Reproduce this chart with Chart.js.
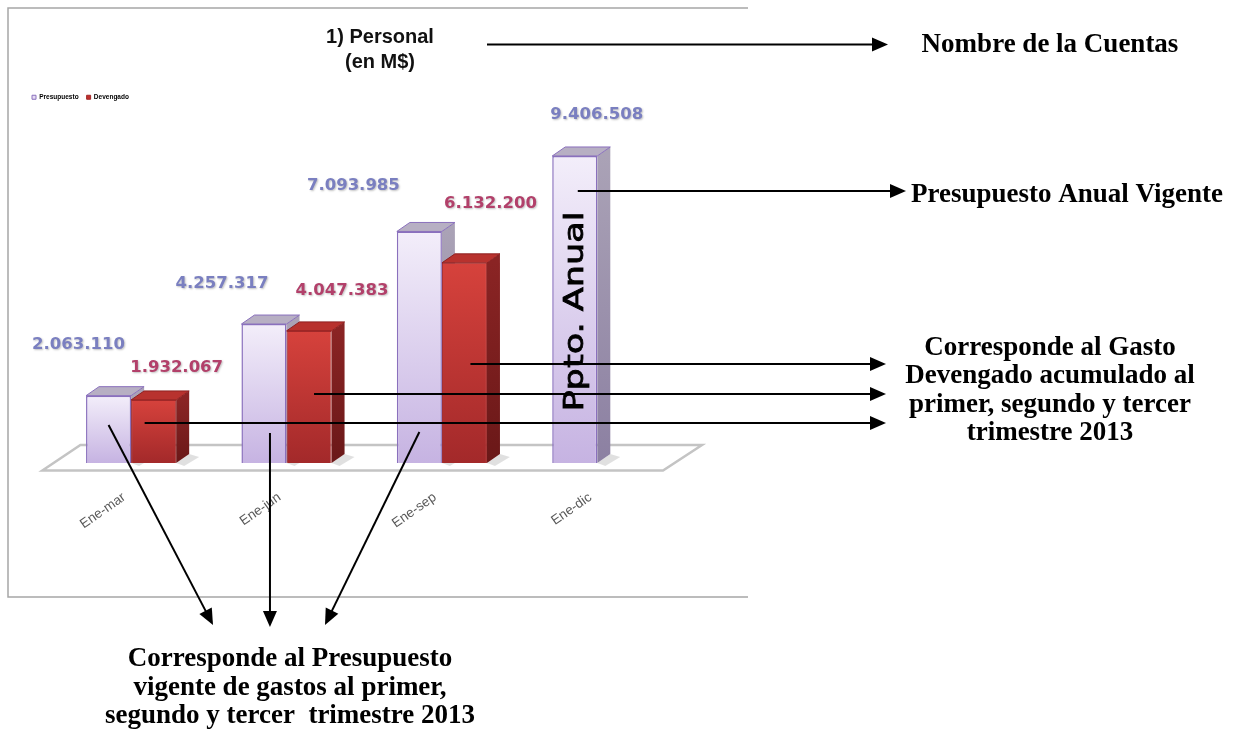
<!DOCTYPE html>
<html>
<head>
    <meta charset="utf-8">
    <title>Personal (en M$)</title>
    <script src="https://cdn.jsdelivr.net/npm/chart.js@4.4.1/dist/chart.umd.min.js"></script>
    <style>
        html, body { margin: 0; padding: 0; background: #fff; }
        #wrap { width: 1235px; height: 735px; }
    </style>
</head>
<body>
<div id="wrap"><canvas id="chart" width="1235" height="735"></canvas></div>
<script>
    // datos del grafico
    const categorias = ['Ene-mar', 'Ene-jun', 'Ene-sep', 'Ene-dic'];
    const presupuesto = [2063110, 4257317, 7093985, 9406508];
    const devengado = [1932067, 4047383, 6132200, null];
    const nombresSeries = ['Presupuesto', 'Devengado'];
    const yMax = 10800000;

    const fmt = v => String(v).replace(/\B(?=(\d{3})+(?!\d))/g, '.');

    // gradiente vertical por barra
    function frontFill(top, bottom, fallback) {
        return c => {
            const s = c.chart.scales.y;
            if (!s || !c.chart.chartArea || c.raw == null) return fallback;
            const y0 = s.getPixelForValue(c.raw), y1 = s.getPixelForValue(0);
            if (!isFinite(y0) || !isFinite(y1)) return fallback;
            const g = c.chart.ctx.createLinearGradient(0, y0, 0, y1);
            g.addColorStop(0, top);
            g.addColorStop(1, bottom);
            return g;
        };
    }

    const estilo3d = [
        { side: ['#aaa2b6', '#8c80a2'], top: '#b7afc3', edge: '#8a70bd', label: '#7a7fc0' },
        { side: ['#8a2424', '#6a1818'], top: '#b8322e', edge: '#8e2020', label: '#b2406a' }
    ];
    const dx = 13, dy = -9;
    // desplazamiento de las etiquetas de valor (como en la vista 3D original)
    const offEtiquetas = [
        [[-30, -51], [-42, -40], [-66, -46], [22, -41]],
        [[23, -32], [33, -40], [26, -59], [0, 0]]
    ];

    function arrow(ctx, x1, y1, x2, y2) {
        const a = Math.atan2(y2 - y1, x2 - x1), L = 16, W = 7;
        ctx.save();
        ctx.strokeStyle = '#000';
        ctx.fillStyle = '#000';
        ctx.lineWidth = 2;
        ctx.beginPath();
        ctx.moveTo(x1, y1);
        ctx.lineTo(x2 - Math.cos(a) * (L - 2), y2 - Math.sin(a) * (L - 2));
        ctx.stroke();
        ctx.beginPath();
        ctx.moveTo(x2, y2);
        ctx.lineTo(x2 - L * Math.cos(a) + W * Math.sin(a), y2 - L * Math.sin(a) - W * Math.cos(a));
        ctx.lineTo(x2 - L * Math.cos(a) - W * Math.sin(a), y2 - L * Math.sin(a) + W * Math.cos(a));
        ctx.closePath();
        ctx.fill();
        ctx.restore();
    }

    const plugin3d = {
        id: 'efecto3d',
        beforeDatasetsDraw(chart) {
            const ctx = chart.ctx, a = chart.chartArea;
            const base = chart.scales.y.getPixelForValue(0);
            ctx.save();
            // piso
            ctx.beginPath();
            ctx.moveTo(a.left - 11, base + 7.5);
            ctx.lineTo(a.right - 12, base + 7.5);
            ctx.lineTo(a.right + 27, base - 18);
            ctx.lineTo(a.left + 27, base - 18);
            ctx.closePath();
            ctx.fillStyle = '#fff';
            ctx.fill();
            ctx.strokeStyle = '#c4c4c4';
            ctx.lineWidth = 2.5;
            ctx.stroke();
            // caras laterales y superiores
            [0, 1].forEach(d => {
                const st = estilo3d[d];
                chart.getDatasetMeta(d).data.forEach((bar, i) => {
                    if (chart.data.datasets[d].data[i] == null) return;
                    const p = bar.getProps(['x', 'y', 'base', 'width'], true);
                    const l = p.x - p.width / 2, r = p.x + p.width / 2;
                    // sombra
                    ctx.fillStyle = 'rgba(0,0,0,0.12)';
                    ctx.beginPath();
                    ctx.moveTo(r, p.base);
                    ctx.lineTo(r + dx, p.base + dy);
                    ctx.lineTo(r + dx + 10, p.base + dy + 3);
                    ctx.lineTo(r + 8, p.base + 3);
                    ctx.closePath();
                    ctx.fill();
                    const g = ctx.createLinearGradient(0, p.y, 0, p.base);
                    g.addColorStop(0, st.side[0]);
                    g.addColorStop(1, st.side[1]);
                    ctx.fillStyle = g;
                    ctx.beginPath();
                    ctx.moveTo(r, p.y);
                    ctx.lineTo(r + dx, p.y + dy);
                    ctx.lineTo(r + dx, p.base + dy);
                    ctx.lineTo(r, p.base);
                    ctx.closePath();
                    ctx.fill();
                    ctx.fillStyle = st.top;
                    ctx.beginPath();
                    ctx.moveTo(l, p.y);
                    ctx.lineTo(l + dx, p.y + dy);
                    ctx.lineTo(r + dx, p.y + dy);
                    ctx.lineTo(r, p.y);
                    ctx.closePath();
                    ctx.fill();
                    ctx.strokeStyle = st.edge;
                    ctx.lineWidth = 1;
                    ctx.stroke();
                });
            });
            ctx.restore();
        },
        afterDatasetsDraw(chart) {
            const ctx = chart.ctx, xs = chart.scales.x, base = chart.scales.y.getPixelForValue(0);
            ctx.save();
            // etiquetas de valor
            ctx.font = 'bold 16.5px "DejaVu Sans"';
            ctx.textAlign = 'center';
            ctx.textBaseline = 'middle';
            ctx.shadowColor = 'rgba(0,0,0,0.25)';
            ctx.shadowBlur = 2;
            ctx.shadowOffsetX = 1;
            ctx.shadowOffsetY = 1;
            [0, 1].forEach(d => {
                chart.getDatasetMeta(d).data.forEach((bar, i) => {
                    const v = chart.data.datasets[d].data[i];
                    if (v == null) return;
                    ctx.fillStyle = estilo3d[d].label;
                    ctx.fillText(fmt(v), bar.x + offEtiquetas[d][i][0], bar.y + offEtiquetas[d][i][1]);
                });
            });
            ctx.shadowColor = 'transparent';
            // texto vertical en la barra anual
            const ult = chart.getDatasetMeta(0).data[categorias.length - 1];
            ctx.save();
            ctx.translate(ult.x + 1, (ult.y + ult.base) / 2 + 2);
            ctx.rotate(-Math.PI / 2);
            ctx.scale(1.3, 1);
            ctx.fillStyle = '#000';
            ctx.font = '27px "DejaVu Sans"';
            ctx.strokeStyle = '#000';
            ctx.lineWidth = 0.8;
            ctx.fillText('Ppto. Anual', 0, 0);
            ctx.strokeText('Ppto. Anual', 0, 0);
            ctx.restore();
            // etiquetas de categoria
            ctx.font = '13.5px "Liberation Sans"';
            ctx.fillStyle = '#595959';
            ctx.textAlign = 'right';
            categorias.forEach((c, i) => {
                ctx.save();
                ctx.translate(xs.getPixelForValue(i) - 7, base + 33);
                ctx.rotate(-35 * Math.PI / 180);
                ctx.fillText(c, 0, 0);
                ctx.restore();
            });
            ctx.restore();
        },
        afterDraw(chart) {
            const ctx = chart.ctx;
            ctx.save();
            // marco
            ctx.strokeStyle = '#a6a6a6';
            ctx.lineWidth = 1.5;
            ctx.beginPath();
            ctx.moveTo(748, 8);
            ctx.lineTo(8, 8);
            ctx.lineTo(8, 597);
            ctx.lineTo(748, 597);
            ctx.stroke();
            // titulo
            ctx.fillStyle = '#111';
            ctx.font = 'bold 20px "Liberation Sans"';
            ctx.textAlign = 'center';
            ctx.textBaseline = 'middle';
            ctx.fillText('1) Personal', 380, 37);
            ctx.fillText('(en M$)', 380, 62);

            // anotaciones
            ctx.font = 'bold 27px "Liberation Serif"';
            ctx.textBaseline = 'alphabetic';
            ctx.fillStyle = '#000';
            ctx.fillText('Nombre de la Cuentas', 1050, 52);
            ctx.textAlign = 'left';
            ctx.fillText('Presupuesto Anual Vigente', 911, 202);
            ctx.textAlign = 'center';
            ['Corresponde al Gasto', 'Devengado acumulado al', 'primer, segundo y tercer', 'trimestre 2013']
                .forEach((t, k) => ctx.fillText(t, 1050, 355 + k * 28.4));
            ['Corresponde al Presupuesto', 'vigente de gastos al primer,', 'segundo y tercer  trimestre 2013']
                .forEach((t, k) => ctx.fillText(t, 290, 666 + k * 28.6));

            const pres = chart.getDatasetMeta(0).data;
            const dev = chart.getDatasetMeta(1).data;
            arrow(ctx, 487, 44.5, 888, 44.5);
            arrow(ctx, pres[3].x + 3, 191, 906, 191);
            arrow(ctx, dev[2].x + 6, 364, 886, 364);
            arrow(ctx, dev[1].x + 5, 394, 886, 394);
            arrow(ctx, dev[0].x - 9, 423, 886, 423);
            arrow(ctx, pres[0].x, 425, 213, 625);
            arrow(ctx, pres[1].x + 6, 433, pres[1].x + 6, 627);
            arrow(ctx, pres[2].x, 432, 325, 625);
            ctx.restore();
        }
    };

    new Chart(document.getElementById('chart'), {
        type: 'bar',
        data: {
            labels: categorias,
            datasets: [{
                label: nombresSeries[0],
                data: presupuesto,
                backgroundColor: frontFill('#f3eefa', '#c6b3e2', '#e6dcf3'),
                borderColor: '#8a70bd',
                borderWidth: 1.5
            }, {
                label: nombresSeries[1],
                data: devengado,
                backgroundColor: frontFill('#d6423c', '#a3292a', '#c0302c'),
                borderColor: '#a02828',
                borderWidth: 1
            }]
        },
        options: {
            responsive: false,
            animation: false,
            events: [],
            layout: { padding: { top: 86, left: 24, right: 560, bottom: 272 } },
            datasets: { bar: { categoryPercentage: 0.58, barPercentage: 1 } },
            scales: {
                x: { display: false },
                y: {
                    min: 0,
                    max: yMax,
                    grid: { display: false },
                    border: { display: false },
                    ticks: { display: false },
                    afterFit: s => { s.width = 29.4; }
                }
            },
            plugins: {
                title: { display: false },
                tooltip: { enabled: false },
                legend: {
                    position: 'top',
                    align: 'start',
                    labels: {
                        boxWidth: 4,
                        boxHeight: 4,
                        padding: 8,
                        color: '#202060',
                        font: { size: 6.5, weight: 'bold', family: 'Liberation Sans' },
                        generateLabels: () => [
                            { text: nombresSeries[0], fillStyle: '#e6dcf3', strokeStyle: '#8a70bd', lineWidth: 1, datasetIndex: 0 },
                            { text: nombresSeries[1], fillStyle: '#c0302c', strokeStyle: '#a02828', lineWidth: 1, datasetIndex: 1 }
                        ]
                    }
                }
            }
        },
        plugins: [plugin3d]
    });
</script>
</body>
</html>
